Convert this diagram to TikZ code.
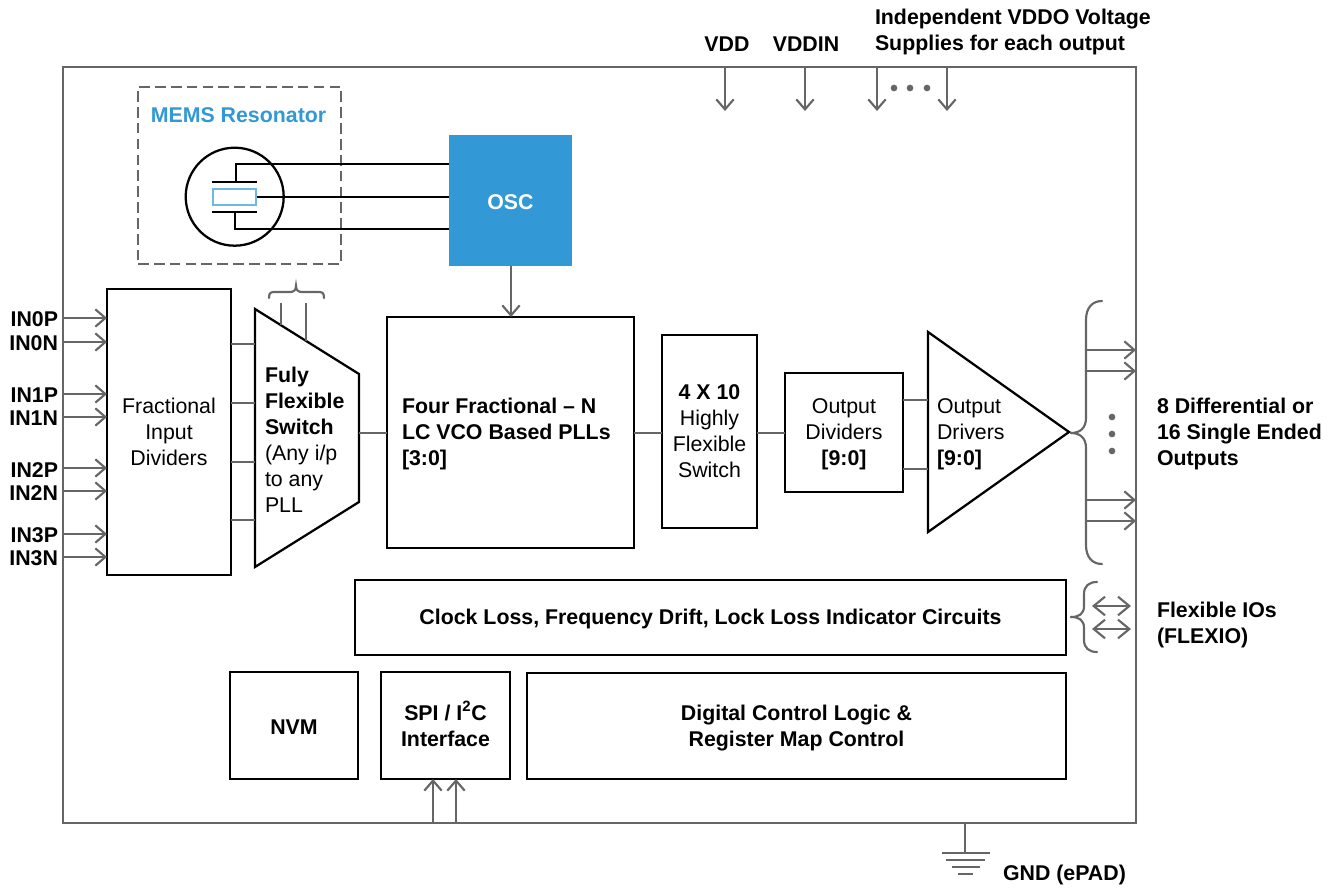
\documentclass[tikz,border=0pt]{standalone}
\usepackage{fontspec}
\setmainfont{Liberation Sans}
\usetikzlibrary{arrows.meta}
\definecolor{wire}{HTML}{666666}
\definecolor{oscblue}{HTML}{3399D6}
\tikzset{
  x=0.75pt,y=-0.75pt,
  txt/.style={font=\fontsize{16}{19.5}\selectfont,inner sep=0pt,outer sep=0pt,align=left,yshift=-1.2pt},
  btxt/.style={font=\fontsize{16}{19.5}\selectfont\bfseries,inner sep=0pt,outer sep=0pt,align=left,yshift=-1.2pt},
  box/.style={draw=black,line width=1.7pt,fill=white,inner sep=0pt,outer sep=0pt,align=center,
    font=\fontsize{16}{19.5}\selectfont,line join=miter,execute at begin node={\rule{0pt}{14pt}}},
  blk/.style={draw=black,line width=1.7pt},
  wireline/.style={draw=wire,line width=1.6pt},
  arrowline/.style={draw=wire,line width=1.6pt,-{Straight Barb[length=7.5pt,width=13pt,line width=1.6pt]}},
  twoway/.style={draw=wire,line width=1.6pt,{Straight Barb[length=8.5pt,width=14pt,line width=1.6pt]}-{Straight Barb[length=8.5pt,width=14pt,line width=1.6pt]}},
  bracket/.style={draw=wire,line width=1.6pt,line cap=round},
  dotmark/.style={circle,fill=wire,draw=none,minimum size=5pt,inner sep=0pt},
}
\begin{document}
\begin{tikzpicture}
\useasboundingbox (0,0) rectangle (1335,888);
% frame
\node[box,draw=wire,line width=1.9pt,fill=white,minimum width=804.75pt,minimum height=567pt] (outer) at (599.5,445) {};
% MEMS
\node[draw=wire,line width=1.6pt,dash pattern=on 8pt off 3.9pt,inner sep=0pt,minimum width=152.25pt,minimum height=132.75pt] (mems) at (239.5,175.5) {};
\node[btxt,text=oscblue] (memst) at (238.5,114) {MEMS Resonator};
\node[draw=black,line width=1.7pt,circle,minimum size=73.5pt,inner sep=0pt] (reso) at (234.7,196.7) {};
\node[draw=oscblue!70,fill=white,line width=0.9pt,minimum width=32.25pt,minimum height=12pt,inner sep=0pt] (xtal) at (234.5,197) {};
\node[fill=oscblue,inner sep=0pt,minimum width=92.25pt,minimum height=98.25pt,text=white,font=\fontsize{16}{19.5}\selectfont\bfseries,execute at begin node={\rule{0pt}{14pt}}] (osc) at (510.5,200.5) {OSC};
\coordinate (pt) at (236,181.7);
\coordinate (pb) at (235,212);
\draw[blk] (212,181.7) -- (257,181.7);
\draw[blk] (212,212) -- (257,212);
\draw[blk] (pt) -- (pt |- 0,164) -- (osc.west |- 0,164);
\draw[blk] (xtal.east) -- (osc.west |- xtal.east);
\draw[blk] (pb) -- (pb |- 0,228.7) -- (osc.west |- 0,228.7);
% main boxes
\node[box,minimum width=93pt,minimum height=214.5pt] (fid) at (169,432) {Fractional\\Input\\Dividers};
\node[box,minimum width=185.25pt,minimum height=173.25pt] (pll) at (510.5,432.5) {};
\node[btxt,anchor=west] (pllt) at (402,432) {Four Fractional – N\\LC VCO Based PLLs\\{[3:0]}};
\node[box,minimum width=71.25pt,minimum height=144.75pt] (sw) at (709.5,431.5) {\textbf{4 X 10}\\Highly\\Flexible\\Switch};
\node[box,minimum width=88.5pt,minimum height=89.25pt] (odiv) at (844,432.5) {Output\\Dividers\\\smash{\textbf{[9:0]}}};
\node[box,minimum width=533.25pt,minimum height=56.25pt,font=\fontsize{16}{19.5}\selectfont\bfseries] (clk) at (710.5,617.5) {Clock Loss, Frequency Drift, Lock Loss Indicator Circuits};
\node[box,minimum width=96pt,minimum height=80.25pt,font=\fontsize{16}{19.5}\selectfont\bfseries] (nvm) at (294,725.5) {NVM};
\node[box,minimum width=96.75pt,minimum height=80.25pt,font=\fontsize{16}{19.5}\selectfont\bfseries] (spi) at (445.5,725.5) {SPI / I\smash{\textsuperscript{2}}C\\Interface};
\node[box,minimum width=404.25pt,minimum height=79.5pt,font=\fontsize{16}{19.5}\selectfont\bfseries] (dig) at (796.5,726) {Digital Control Logic \&\\\smash{Register Map Control}};
% switch trapezoid
\coordinate (t1) at (255,309);
\coordinate (t2) at (359,374);
\coordinate (t3) at (359,502);
\coordinate (t4) at (255,567);
\coordinate (tout) at (359,433);
\draw[blk,line join=miter] (t1) -- (t2) -- (t3) -- (t4) -- cycle;
\node[txt,anchor=west] (swt) at (265,438) {\textbf{Fuly}\\\textbf{Flexible}\\\textbf{Switch}\\(Any i/p\\to any\\PLL};
% driver triangle
\coordinate (d1) at (928,332);
\coordinate (d2) at (1069,432);
\coordinate (d3) at (928,532);
\draw[blk,line join=miter] (d1) -- (d2) -- (d3) -- cycle;
\node[txt,anchor=west] (drvt) at (937,430) {Output\\Drivers\\\smash{\textbf{[9:0]}}};
% wires between blocks
\draw[arrowline] ([xshift=0.375pt]osc.south) -- ([xshift=0.375pt]pll.north -| osc.south);
\foreach \yy in {344,403,462,520} \draw[wireline] (fid.east |- 0,\yy) -- (255,\yy);
\draw[wireline] (tout) -- (pll.west |- tout);
\draw[wireline] (pll.east |- 0,433) -- (sw.west |- 0,433);
\draw[wireline] (sw.east |- 0,433) -- (odiv.west |- 0,433);
\draw[wireline] (odiv.east |- 0,400) -- (d1 |- 0,400);
\draw[wireline] (odiv.east |- 0,469) -- (d1 |- 0,469);
% small brace above the switch
\draw[bracket] (269,298) .. controls (269,292) and (271,292) .. (276,292) -- (290,292) .. controls (294,292) and (296,290) .. (296,286) .. controls (296,290) and (298,292) .. (302,292) -- (317,292) .. controls (322,292) and (324,292) .. (324,298);
\draw[wireline] (281,303) -- (281,325);
\draw[wireline] (306,303) -- (306,341);
% inputs
\foreach \nm/\yy in {IN0P/318,IN0N/342,IN1P/394,IN1N/417,IN2P/468,IN2N/491,IN3P/534,IN3N/557} {
  \draw[arrowline] (outer.west |- 0,\yy) -- (fid.west |- 0,\yy);
  \node[btxt,anchor=east] (lab\nm) at (58,\yy) {\nm};
}
% supplies
\node[btxt] (vdd) at (727,43) {VDD};
\node[btxt] (vddin) at (806,43) {VDDIN};
\node[btxt,anchor=west] (vddo) at (875,30) {Independent VDDO Voltage\\Supplies for each output};
\foreach \xx in {725,805,877,947} \draw[arrowline] (\xx,67) -- (\xx,111);
\foreach \xx in {894,910,927} \node[dotmark] at (\xx,88) {};
% output brace
\draw[bracket] (d2) ++(2,1) coordinate (obt) .. controls (1080,433) and (1086,428) .. (1086,418) -- (1086,320) .. controls (1086,308) and (1092,301) .. (1102,301);
\draw[bracket] (obt) .. controls (1080,433) and (1086,438) .. (1086,448) -- (1086,545) .. controls (1086,557) and (1092,564) .. (1102,564);
\foreach \yy in {350,371,500,521} \draw[arrowline] (1086,\yy) -- (outer.east |- 0,\yy);
\foreach \yy in {417,434,451} \node[dotmark] at (1112,\yy) {};
\node[btxt,anchor=west] (outt) at (1157,432) {8 Differential or\\16 Single Ended\\Outputs};
% flexio
\draw[bracket] (1071,617) .. controls (1079,617) and (1084,614) .. (1084,606) -- (1084,594) .. controls (1084,586) and (1089,582) .. (1097,582);
\draw[bracket] (1071,617) .. controls (1079,617) and (1084,620) .. (1084,628) -- (1084,640) .. controls (1084,648) and (1089,652) .. (1097,652);
\coordinate (fa) at (1092,606); \coordinate (fb) at (1131,606);
\coordinate (fc) at (1092,629); \coordinate (fd) at (1131,629);
\draw[twoway] (fa) -- (fb);
\draw[twoway] (fc) -- (fd);
\node[btxt,anchor=west] (flext) at (1157,623) {Flexible IOs\\(FLEXIO)};
% SPI arrows
\draw[arrowline] (outer.south -| 433,0) -- (spi.south -| 433,0);
\draw[arrowline] (outer.south -| 456,0) -- (spi.south -| 456,0);
% ground
\coordinate (g0) at (965,853);
\draw[wireline] (outer.south -| g0) -- (g0);
\draw[wireline] (942,853) -- (990,853);
\draw[wireline] (946,860) -- (985,860);
\draw[wireline] (952,867) -- (980,867);
\draw[wireline] (958,874) -- (973,874);
\node[btxt,anchor=west] (gnd) at (1003,873) {GND (ePAD)};
\end{tikzpicture}
\end{document}
